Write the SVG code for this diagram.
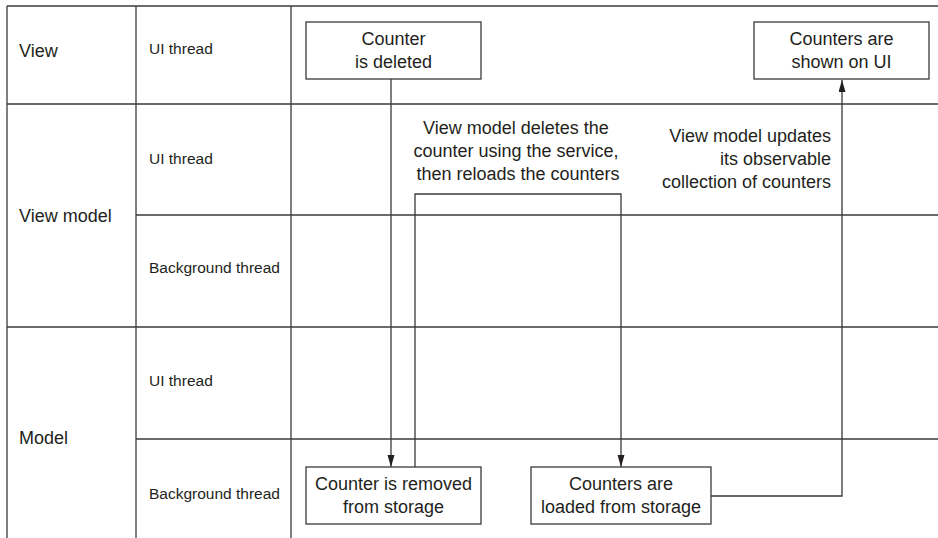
<svg xmlns="http://www.w3.org/2000/svg" width="938" height="538" viewBox="0 0 938 538">
  <style>
    .grid { stroke: #3a3a3a; stroke-width: 1.3; fill: none; }
    .box { stroke: #3a3a3a; stroke-width: 1.3; fill: #ffffff; }
    .conn { stroke: #3a3a3a; stroke-width: 1.3; fill: none; }
    .big { font-family: "Liberation Sans", Arial, sans-serif; font-size: 18px; fill: #231f20; }
    .small { font-family: "Liberation Sans", Arial, sans-serif; font-size: 15.5px; fill: #231f20; }
    .mid { text-anchor: middle; }
    .end { text-anchor: end; }
  </style>
  <defs>
    <marker id="arrow" markerUnits="userSpaceOnUse" markerWidth="12" markerHeight="8" refX="12" refY="3.5" orient="auto">
      <path d="M0,0 L12,3.5 L0,7 z" fill="#231f20"/>
    </marker>
  </defs>
  <rect width="938" height="538" fill="#ffffff"/>
  <g id="grid">
    <line class="grid" x1="7" y1="6" x2="938" y2="6"/>
    <line class="grid" x1="7" y1="6" x2="7" y2="538"/>
    <line class="grid" x1="136" y1="6" x2="136" y2="538"/>
    <line class="grid" x1="291" y1="6" x2="291" y2="538"/>
    <line class="grid" x1="7" y1="104" x2="938" y2="104"/>
    <line class="grid" x1="136" y1="215" x2="938" y2="215"/>
    <line class="grid" x1="7" y1="327" x2="938" y2="327"/>
    <line class="grid" x1="136" y1="439" x2="938" y2="439"/>
  </g>
  <g id="labels">
    <text class="big" x="19" y="57">View</text>
    <text class="big" x="19" y="222">View model</text>
    <text class="big" x="19" y="444">Model</text>
    <text class="small" x="149" y="54">UI thread</text>
    <text class="small" x="149" y="164">UI thread</text>
    <text class="small" x="149" y="273">Background thread</text>
    <text class="small" x="149" y="386">UI thread</text>
    <text class="small" x="149" y="499">Background thread</text>
  </g>
  <g id="connectors">
    <line class="conn" x1="391" y1="79" x2="391" y2="467" marker-end="url(#arrow)"/>
    <path class="conn" d="M415,467 V194 H621 V467" marker-end="url(#arrow)"/>
    <path class="conn" d="M711,496 H842 V80" marker-end="url(#arrow)"/>
  </g>
  <g id="node-deleted">
    <rect class="box" x="306" y="22" width="175" height="57"/>
    <text class="big mid" x="393.5" y="45">Counter</text>
    <text class="big mid" x="393.5" y="68">is deleted</text>
  </g>
  <g id="node-shown">
    <rect class="box" x="754" y="22" width="175" height="57"/>
    <text class="big mid" x="841.5" y="45">Counters are</text>
    <text class="big mid" x="841.5" y="68">shown on UI</text>
  </g>
  <g id="note-deletes">
    <text class="big mid" x="516" y="134">View model deletes the</text>
    <text class="big mid" x="516" y="157">counter using the service,</text>
    <text class="big mid" x="518" y="180">then reloads the counters</text>
  </g>
  <g id="note-updates">
    <text class="big end" x="831" y="142">View model updates</text>
    <text class="big end" x="831" y="165">its observable</text>
    <text class="big end" x="831" y="188">collection of counters</text>
  </g>
  <g id="node-removed">
    <rect class="box" x="306" y="467" width="175" height="57"/>
    <text class="big mid" x="393.5" y="490">Counter is removed</text>
    <text class="big mid" x="393.5" y="513">from storage</text>
  </g>
  <g id="node-loaded">
    <rect class="box" x="531" y="467" width="180" height="57"/>
    <text class="big mid" x="621" y="490">Counters are</text>
    <text class="big mid" x="621" y="513">loaded from storage</text>
  </g>
</svg>
